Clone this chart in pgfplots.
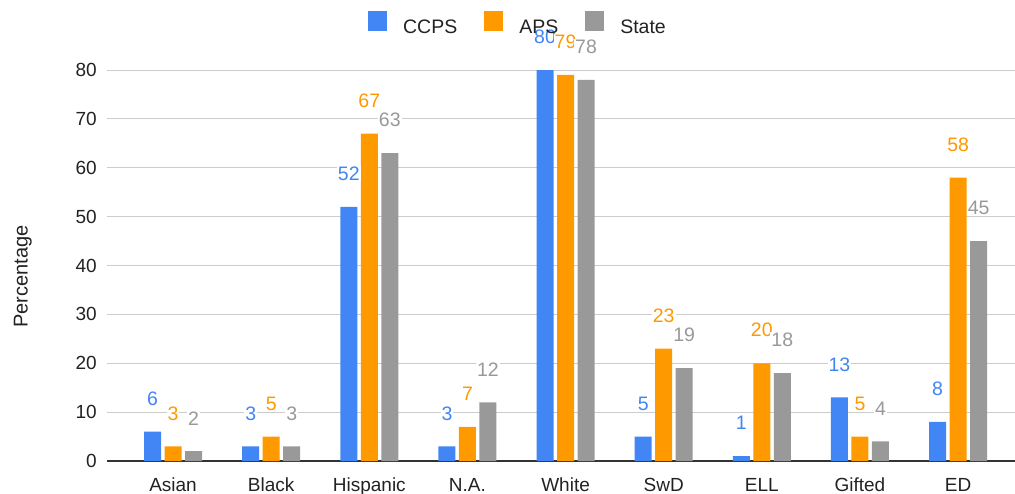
\documentclass[border=0pt]{standalone}
\usepackage{pgfplots}
\pgfplotsset{compat=1.18}
\usepackage{fontspec}
\setmainfont{Liberation Sans}
\definecolor{ccps}{HTML}{4285F4}
\definecolor{aps}{HTML}{FF9900}
\definecolor{state}{HTML}{999999}
\definecolor{gridc}{HTML}{CCCCCC}
\definecolor{axc}{HTML}{333333}
\definecolor{txt}{HTML}{222222}
\begin{document}
\begin{tikzpicture}
\begin{axis}[
  set layers,
  at={(107pt,32pt)}, anchor=south west,
  scale only axis,
  width=908pt, height=391pt,
  xmin=-0.673, xmax=8.58,
  ymin=0, ymax=80,
  ytick={0,10,...,80},
  xtick={0,...,8},
  xticklabels={Asian,Black,Hispanic,N.A.,White,SwD,ELL,Gifted,ED},
  major tick length=0pt,
  ymajorgrids,
  grid style={gridc, line width=1pt},
  axis x line=bottom,
  axis y line=left,
  x axis line style={-, axc, line width=1.3pt, on layer=axis foreground},
  y axis line style={draw=none},
  clip=false,
  font=\fontsize{19}{22}\selectfont,
  /pgf/number format/assume math mode=true,
  ticklabel style={text=txt},
  yticklabel style={inner sep=0pt, xshift=-10pt, anchor=east},
  xticklabel style={inner sep=0pt, text height=14pt, text depth=0pt, anchor=north, yshift=-16pt},
  ylabel={Percentage},
  ylabel style={at={(axis description cs:-0.0928,0.472)}, anchor=center, text=txt, font=\fontsize{20}{22}\selectfont},
  ybar=3.5pt, bar width=17pt,
  nodes near coords,
  every node near coord/.append style={anchor=center, yshift=33pt, fill=white, inner sep=1pt, font=\fontsize{19.5}{22}\selectfont},
  legend columns=3,
  legend style={at={(axis description cs:0.4515,1.120)}, anchor=center, draw=none, fill=none, inner sep=0pt,
    nodes={inner sep=0pt, text=txt}, font=\fontsize{19.5}{22}\selectfont,
    /tikz/every even column/.append style={column sep=27pt}},
  legend image code/.code={\fill[#1, draw=none] (0pt,-3pt) rectangle (19pt,17pt); \path (35pt,0pt);},
]
\addplot[fill=ccps, draw=none, every node near coord/.append style={text=ccps}] coordinates {(0,6) (1,3) (2,52) (3,3) (4,80) (5,5) (6,1) (7,13) (8,8)};
\addplot[fill=aps, draw=none, every node near coord/.append style={text=aps}] coordinates {(0,3) (1,5) (2,67) (3,7) (4,79) (5,23) (6,20) (7,5) (8,58)};
\addplot[fill=state, draw=none, every node near coord/.append style={text=state}] coordinates {(0,2) (1,3) (2,63) (3,12) (4,78) (5,19) (6,18) (7,4) (8,45)};
\legend{CCPS,APS,State}
\end{axis}
\pgfresetboundingbox
\path[use as bounding box] (0,0) rectangle (1015pt,493pt);
\end{tikzpicture}
\end{document}
